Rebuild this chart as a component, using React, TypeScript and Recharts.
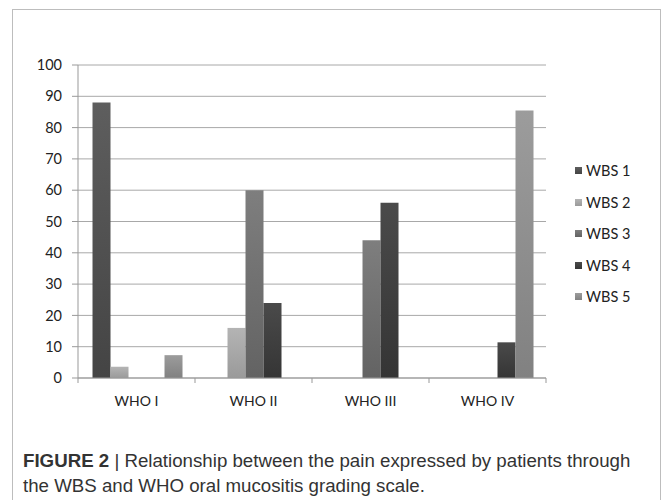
import React from 'react';
import { BarChart, Bar, XAxis, YAxis, CartesianGrid, Legend } from 'recharts';

const categories = ['WHO I', 'WHO II', 'WHO III', 'WHO IV'];
const seriesNames = ['WBS 1', 'WBS 2', 'WBS 3', 'WBS 4', 'WBS 5'];
const wbs1 = [88, 0, 0, 0];
const wbs2 = [3.6, 16, 0, 0];
const wbs3 = [0, 60, 44, 0];
const wbs4 = [0, 24, 56, 11.4];
const wbs5 = [7.3, 0, 0, 85.5];
const yTicks = [0, 10, 20, 30, 40, 50, 60, 70, 80, 90, 100];

// top / bottom shade of each series
const shades = [
  ['#5e5e5e', '#444444'],
  ['#b4b4b4', '#9a9a9a'],
  ['#7e7e7e', '#636363'],
  ['#4a4a4a', '#353535'],
  ['#9c9c9c', '#818181'],
];

const data = categories.map((name, i) => ({
  name,
  'WBS 1': wbs1[i],
  'WBS 2': wbs2[i],
  'WBS 3': wbs3[i],
  'WBS 4': wbs4[i],
  'WBS 5': wbs5[i],
}));

const FONT = "Lato, Carlito, 'Open Sans', sans-serif";
const CHART_W = 640;
const CHART_H = 420;
const MARGIN = { top: 55, right: 27, left: 0, bottom: 22 };
const Y_W = 65;
const LEGEND_W = 80;
const plotW = CHART_W - MARGIN.left - Y_W - MARGIN.right - LEGEND_W;
const halfBand = plotW / categories.length / 2;

const XTick = (props: any) => {
  const { x, y, payload, index } = props;
  return (
    <g>
      <line x1={x - halfBand} y1={y} x2={x - halfBand} y2={y + 5} stroke="#999" />
      {index === categories.length - 1 && (
        <line x1={x + halfBand} y1={y} x2={x + halfBand} y2={y + 5} stroke="#999" />
      )}
      <text
        x={x}
        y={y + 22}
        textAnchor="middle"
        dominantBaseline="central"
        fontSize={14}
        fill="#222"
        fontFamily={FONT}
      >
        {payload.value}
      </text>
    </g>
  );
};

const LegendContent = () => (
  <div style={{ width: LEGEND_W, paddingLeft: 29, boxSizing: 'border-box' }}>
    {seriesNames.map((s, i) => (
      <div key={s} style={{ height: 31.5, display: 'flex', alignItems: 'center', fontFamily: FONT, fontSize: 14.5, color: '#222', whiteSpace: 'nowrap' }}>
        <svg width={7} height={7} style={{ marginRight: 4, flexShrink: 0 }}>
          <rect width={7} height={7} fill={`url(#grad${i})`} />
        </svg>
        {s}
      </div>
    ))}
  </div>
);

export default function App() {
  return (
    <div
      style={{
        position: 'absolute',
        left: 12,
        top: 9,
        width: 649,
        height: 495,
        boxSizing: 'border-box',
        borderTop: '1px solid #bdbdbd',
        borderLeft: '1px solid #bdbdbd',
        borderRight: '1px solid #bdbdbd',
        background: '#fff',
      }}
    >
      <div style={{ position: 'absolute', left: 0, top: 0 }}>
        <BarChart
          width={CHART_W}
          height={CHART_H}
          data={data}
          margin={MARGIN}
          barCategoryGap="12.4%"
          barGap={0}
        >
          <defs>
            {shades.map((c, i) => (
              <linearGradient key={i} id={`grad${i}`} x1="0" y1="0" x2="0" y2="1">
                <stop offset="0%" stopColor={c[0]} />
                <stop offset="100%" stopColor={c[1]} />
              </linearGradient>
            ))}
          </defs>
          <CartesianGrid vertical={false} stroke="#a8a8a8" />
          <XAxis
            dataKey="name"
            height={30}
            stroke="#999"
            tickLine={false}
            tickSize={0}
            tickMargin={0}
            tick={<XTick />}
            interval={0}
          />
          <YAxis
            width={Y_W}
            domain={[0, 100]}
            ticks={yTicks}
            interval={0}
            stroke="#999"
            tickSize={6}
            tickMargin={10}
            tick={{ fontSize: 14.5, fill: '#222', fontFamily: FONT }}
          />
          <Legend
            layout="vertical"
            align="right"
            verticalAlign="middle"
            width={LEGEND_W}
            content={<LegendContent />}
            wrapperStyle={{ top: 145 }}
          />
          {seriesNames.map((s, i) => (
            <Bar key={s} dataKey={s} fill={`url(#grad${i})`} isAnimationActive={false} />
          ))}
        </BarChart>
      </div>
      <div
        style={{
          position: 'absolute',
          left: 10,
          top: 438,
          width: 618,
          fontFamily: "'Liberation Sans', Arial, sans-serif",
          fontSize: 18.7,
          lineHeight: '25px',
          color: '#333',
        }}
      >
        <b>FIGURE 2</b> | Relationship between the pain expressed by patients through the WBS and WHO oral mucositis grading scale.
      </div>
    </div>
  );
}
